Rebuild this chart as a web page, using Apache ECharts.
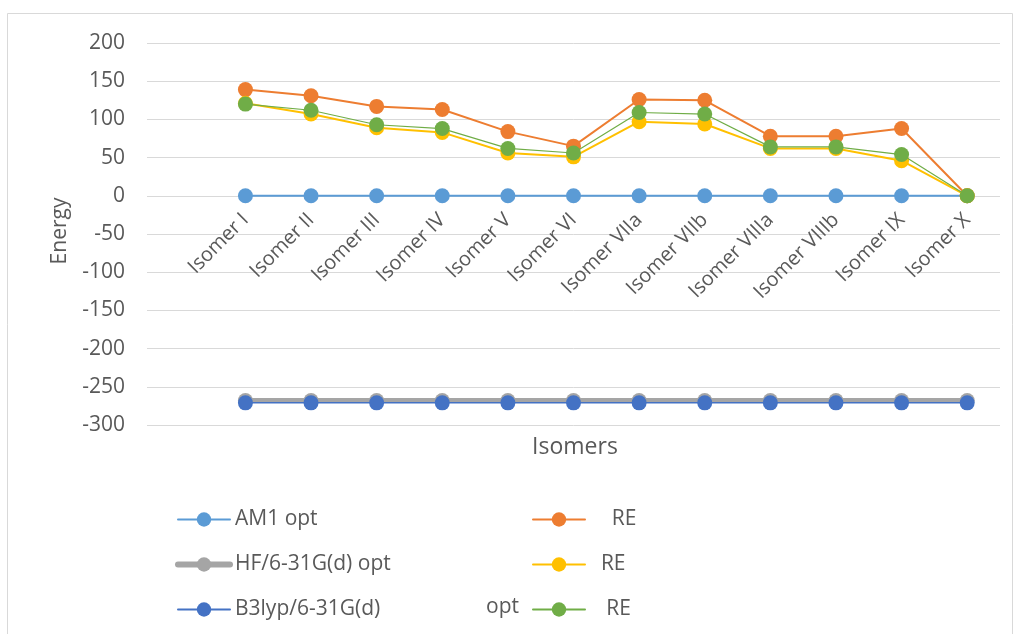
<!DOCTYPE html>
<html>
<head>
<meta charset="utf-8">
<script src="https://cdn.jsdelivr.net/npm/echarts@6/dist/echarts.min.js"></script>
<style>
  html, body { margin: 0; padding: 0; background: #fff; }
  #chart { width: 1015px; height: 634px; }
</style>
</head>
<body>
<div id="chart"></div>
<script>
const categories = ['Isomer I', 'Isomer II', 'Isomer III', 'Isomer IV', 'Isomer V', 'Isomer VI',
  'Isomer VIIa', 'Isomer VIIb', 'Isomer VIIIa', 'Isomer VIIIb', 'Isomer IX', 'Isomer X'];
const am1Opt = [0, 0, 0, 0, 0, 0, 0, 0, 0, 0, 0, 0];
const am1RE = [139, 131, 117, 113, 84, 65, 126, 125, 78, 78, 88, 0];
const hfOpt = [-268, -268, -268, -268, -268, -268, -268, -268, -268, -268, -268, -268];
const hfRE = [121, 107, 89, 83, 56, 51, 97, 94, 62, 62, 46, 0];
const b3Opt = [-271, -271, -271, -271, -271, -271, -271, -271, -271, -271, -271, -271];
const b3RE = [120, 112, 93, 88, 62, 56, 109, 107, 64, 64, 54, 0];
const yTicks = { min: -300, max: 200, step: 50 };

const FONT = 'Open Sans';
const TXT = '#595959';

// Excel leaves a blank slot left of the first isomer
const axisCats = [''].concat(categories);
const pad = arr => [null].concat(arr);

const displayNames = {
  'AM1 opt': 'AM1 opt',
  'HF/6-31G(d) opt': 'HF/6-31G(d) opt',
  'B3lyp/6-31G(d)': 'B3lyp/6-31G(d)',
  'AM1 RE': '    RE',
  'HF RE': '  RE',
  'B3lyp RE': '   RE'
};

function mk(name, data, color, width, z) {
  return {
    name: name,
    type: 'line',
    data: pad(data),
    symbol: 'circle',
    symbolSize: 15,
    z: z,
    itemStyle: { color: color },
    lineStyle: { color: color, width: width, cap: 'round' },
    emphasis: { disabled: true },
    animation: false
  };
}

const gridTop = 43, gridBottom = 209;
const plotH = 634 - gridTop - gridBottom;
// lift the category labels up to the zero line, as Excel does
const zeroOffset = -plotH * (0 - yTicks.min) / (yTicks.max - yTicks.min);

const legendBase = {
  orient: 'vertical',
  top: 504,
  itemWidth: 52,
  itemHeight: 18,
  itemGap: 24,
  formatter: n => displayNames[n],
  textStyle: { color: TXT, fontSize: 21, fontFamily: FONT },
  selectedMode: false
};

const chart = echarts.init(document.getElementById('chart'));
chart.setOption({
  backgroundColor: '#fff',
  animation: false,
  textStyle: { fontFamily: FONT },
  grid: { left: 147, right: 15, top: gridTop, bottom: gridBottom, containLabel: false },
  xAxis: {
    type: 'category',
    data: axisCats,
    boundaryGap: true,
    offset: zeroOffset,
    axisLine: { show: false, onZero: false },
    axisTick: { show: false },
    axisLabel: { rotate: 45, color: TXT, fontSize: 20, fontFamily: FONT, margin: 21, interval: 0 }
  },
  yAxis: {
    type: 'value',
    min: yTicks.min,
    max: yTicks.max,
    interval: yTicks.step,
    axisLine: { show: false },
    axisTick: { show: false },
    axisLabel: { color: TXT, fontSize: 21, fontFamily: FONT, margin: 22 },
    splitLine: { lineStyle: { color: '#d9d9d9', width: 1 } }
  },
  legend: [
    Object.assign({}, legendBase, {
      left: 170,
      data: ['AM1 opt', { name: 'HF/6-31G(d) opt', lineStyle: { width: 6, cap: 'round' } }, 'B3lyp/6-31G(d)']
    }),
    Object.assign({}, legendBase, {
      left: 527,
      data: ['AM1 RE', 'HF RE', 'B3lyp RE']
    })
  ],
  graphic: [
    {
      type: 'rect',
      shape: { x: 7.5, y: 13.5, width: 1005, height: 640 },
      style: { fill: 'none', stroke: '#d9d9d9', lineWidth: 1 },
      silent: true,
      z: -10
    },
    {
      type: 'text',
      x: 60, y: 231,
      rotation: Math.PI / 2,
      style: { text: 'Energy', fill: TXT, font: '21px "Open Sans"', textAlign: 'center', textVerticalAlign: 'middle' }
    },
    {
      type: 'text',
      x: 575, y: 447,
      style: { text: 'Isomers', fill: TXT, font: '23px "Open Sans"', textAlign: 'center', textVerticalAlign: 'middle' }
    },
    {
      type: 'text',
      x: 486, y: 607,
      style: { text: 'opt', fill: TXT, font: '21px "Open Sans"', textAlign: 'left', textVerticalAlign: 'middle' }
    }
  ],
  series: [
    mk('AM1 opt', am1Opt, '#5B9BD5', 2, 2),
    mk('AM1 RE', am1RE, '#ED7D31', 2, 3),
    mk('HF/6-31G(d) opt', hfOpt, '#A5A5A5', 5, 4),
    mk('HF RE', hfRE, '#FFC000', 2, 5),
    mk('B3lyp/6-31G(d)', b3Opt, '#4472C4', 1.5, 6),
    mk('B3lyp RE', b3RE, '#70AD47', 1.2, 7)
  ]
});
</script>
</body>
</html>
